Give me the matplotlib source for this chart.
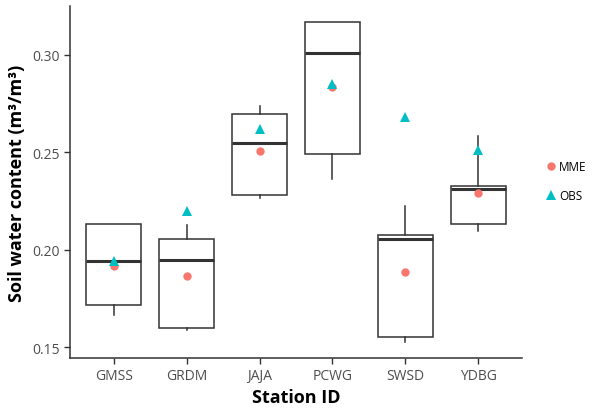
import matplotlib.pyplot as plt

plt.rcParams['font.family'] = ['Open Sans', 'DejaVu Sans']

stations = ["GMSS", "GRDM", "JAJA", "PCWG", "SWSD", "YDBG"]
whislo = [0.1666, 0.1589, 0.2266, 0.2364, 0.1526, 0.2095]
q1 = [0.1716, 0.1599, 0.2278, 0.2492, 0.1551, 0.2131]
med = [0.1941, 0.1948, 0.2547, 0.3008, 0.2052, 0.2309]
q3 = [0.2133, 0.2056, 0.2697, 0.3167, 0.2076, 0.2326]
whishi = [0.2133, 0.2124, 0.2734, 0.3167, 0.2222, 0.2583]
mme = [0.1915, 0.1862, 0.2503, 0.2832, 0.1885, 0.2290]
obs = [0.1940, 0.2200, 0.2620, 0.2850, 0.2680, 0.2510]

fig = plt.figure(figsize=(5.95, 4.10), dpi=100)
ax = fig.add_axes([70 / 595, 51 / 410, 452 / 595, 352 / 410])

pos = list(range(1, len(stations) + 1))
stats = []
for i, s in enumerate(stations):
    stats.append(dict(label=s, whislo=whislo[i], q1=q1[i], med=med[i],
                      q3=q3[i], whishi=whishi[i], fliers=[]))

line_c = "#333333"
ax.bxp(stats, positions=pos, widths=0.75, showcaps=False, patch_artist=True,
       boxprops=dict(facecolor="white", edgecolor=line_c, linewidth=1.1),
       whiskerprops=dict(color=line_c, linewidth=1.1),
       medianprops=dict(color=line_c, linewidth=2.2))

ax.plot(pos, mme, "o", color="#F8766D", markersize=6, markeredgewidth=0, label="MME", zorder=3)
ax.plot(pos, obs, "^", color="#00BFC4", markersize=7, markeredgewidth=0, label="OBS", zorder=3)

ax.set_xlim(0.4, 6.6)
ax.set_ylim(0.1444, 0.3249)
ax.set_yticks([0.15, 0.20, 0.25, 0.30])
ax.set_yticklabels(["0.15", "0.20", "0.25", "0.30"])
ax.set_xticks(pos)
ax.set_xticklabels(stations)

for sp in ["top", "right"]:
    ax.spines[sp].set_visible(False)
for sp in ["left", "bottom"]:
    ax.spines[sp].set_color("#333333")
    ax.spines[sp].set_linewidth(1.1)
ax.tick_params(colors="#333333", labelcolor="#4D4D4D", labelsize=10, length=4, width=1)

ax.set_xlabel("Station ID", fontsize=13, fontweight="bold", labelpad=3)
ax.set_ylabel("Soil water content (m³/m³)", fontsize=13, fontweight="bold", labelpad=4)

fig.legend(loc="center left", bbox_to_anchor=(545 / 595, 1 - 182 / 410), frameon=False,
           fontsize=8.5, handletextpad=0.2, labelspacing=1.3, handlelength=1.0,
           borderpad=0, borderaxespad=0)

fig.savefig("out.png", dpi=100)
